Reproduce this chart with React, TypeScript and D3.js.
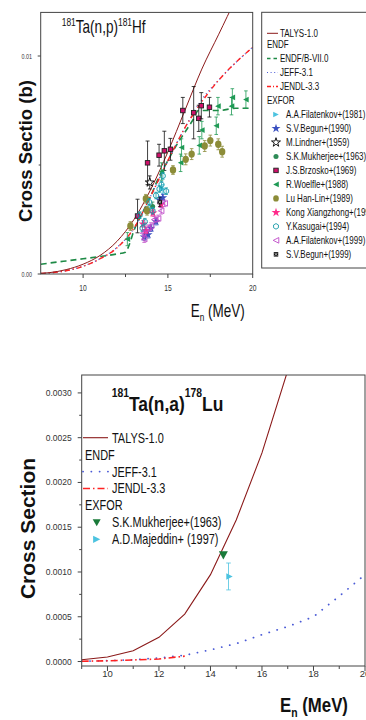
import React from 'react';
import * as d3 from 'd3';

// ---------- (n,p) chart data ----------
const npEnergy = [7.5, 8, 9, 10, 11, 12, 13, 14, 15, 16, 17, 18, 19, 20];
const npTalys = [0.00003, 0.00006, 0.0002, 0.00045, 0.00085, 0.0015, 0.0025, 0.0039, 0.0056, 0.0075, 0.0094, 0.011, 0.0126, 0.014];
const npJeff = [0.00002, 0.00005, 0.00015, 0.00036, 0.0007, 0.00122, 0.0021, 0.0036, 0.0052, 0.0067, 0.008, 0.0089, 0.0097, 0.0104];
const npJendl = [0.00002, 0.00005, 0.00015, 0.00035, 0.0007, 0.0012, 0.0021, 0.0036, 0.0052, 0.0067, 0.0079, 0.0089, 0.0097, 0.0104];
const npEndfEnergy = [7.5, 9, 10, 11, 12, 12.5, 12.7, 13, 13.5, 14, 14.5, 15, 15.5, 16, 16.5, 16.8, 17, 18, 19, 20];
const npEndf = [0.00045, 0.0006, 0.0007, 0.0008, 0.00092, 0.001, 0.0013, 0.002, 0.0028, 0.0036, 0.0045, 0.0052, 0.0059, 0.0065, 0.0071, 0.0075, 0.0075, 0.0075, 0.0076, 0.0076];

// EXFOR [E, sigma, err]
const npFilatenkov1981 = [[13.9, 0.003, 0.0002], [14.7, 0.0039, 0.0002]];
const npBegun1990 = [[13.6, 0.0017, 0.00015], [13.83, 0.0018, 0.00015], [14.0, 0.0021, 0.00015], [14.3, 0.0024, 0.00015], [14.52, 0.0034, 0.00015], [14.7, 0.0035, 0.00015]];
const npLindner = [[13.93, 0.0042, 0.0003]];
const npMukherjee = [[14.1, 0.0031, 0.0002]];
const npBrzosko = [[13.21, 0.00266, 0.00077], [13.8, 0.0051, 0.001], [14.48, 0.00545, 0.0005], [14.79, 0.00565, 0.0009], [15.15, 0.00572, 0.0005], [15.88, 0.0075, 0.0006], [16.52, 0.0074, 0.0012], [16.82, 0.00714, 0.0006], [16.97, 0.00772, 0.0006], [17.45, 0.00765, 0.00045]];
const npWoelfle = [[12.61, 0.0016, 0.0003], [14.62, 0.0047, 0.0004], [15.75, 0.0051, 0.0004], [15.8, 0.0058, 0.0004], [16.85, 0.0059, 0.0004], [17.0, 0.0066, 0.0004], [17.85, 0.0068, 0.0004], [17.95, 0.0077, 0.0004], [18.75, 0.0077, 0.0004], [18.8, 0.0081, 0.0004], [19.6, 0.008, 0.0004]];
const npLuHanLin = [[12.79, 0.0022, 0.0002], [13.7, 0.00345, 0.0002], [13.77, 0.0029, 0.0002], [15.3, 0.00477, 0.0002], [16.05, 0.00526, 0.00025], [16.4, 0.0055, 0.00025], [17.17, 0.00587, 0.00025], [17.5, 0.00612, 0.00025], [17.97, 0.00595, 0.00025], [18.2, 0.00561, 0.00025]];
const npKong = [[13.54, 0.0023, 0.00015], [13.7, 0.002, 0.00015], [14.12, 0.0028, 0.00015], [14.6, 0.0032, 0.00015]];
const npKasugai = [[13.34, 0.0027, 0.00015], [13.5, 0.0021, 0.00015], [13.64, 0.0024, 0.00015], [13.9, 0.0033, 0.00015], [14.1, 0.0029, 0.00015], [14.3, 0.0036, 0.00015], [14.5, 0.0039, 0.00015], [14.62, 0.0041, 0.00015], [14.7, 0.0045, 0.00015], [14.9, 0.0038, 0.00015]];
const npFilatenkov1999 = [[13.54, 0.00187, 0.00015], [13.6, 0.0016, 0.00015], [13.83, 0.0021, 0.00015], [14.0, 0.0022, 0.00015], [14.2, 0.0025, 0.00015], [14.42, 0.00255, 0.00015], [14.6, 0.0029, 0.00015], [14.81, 0.00324, 0.00015]];
const npBegun1999 = [[14.52, 0.0033, 0.0002]];

const npXTicks = [10, 15, 20];
const npXMinor = [12.5, 17.5];
const npYTicks = [0, 0.01];
const npYTickLabels = ['0.00', '0.01'];
const npYMinor = [0.005];

const npModelNames = ['TALYS-1.0', 'ENDF/B-VII.0', 'JEFF-3.1', 'JENDL-3.3'];
const npExpNames = ['A.A.Filatenkov+(1981)', 'S.V.Begun+(1990)', 'M.Lindner+(1959)', 'S.K.Mukherjee+(1963)', 'J.S.Brzosko+(1969)', 'R.Woelfle+(1988)', 'Lu Han-Lin+(1989)', 'Kong Xiangzhong+(1998)', 'Y.Kasugai+(1994)', 'A.A.Filatenkov+(1999)', 'S.V.Begun+(1999)'];

// ---------- (n,a) chart data ----------
const naEnergy = [9, 10, 11, 12, 13, 14, 15, 16, 17];
const naTalys = [0.00002, 0.00005, 0.00012, 0.00027, 0.00053, 0.00097, 0.00158, 0.00233, 0.00325];
const naJeffEnergy = [9, 10, 11, 12, 13, 14, 15, 16, 17, 18, 19, 20];
const naJeff = [0.000003, 0.00001, 0.00002, 0.00004, 0.00007, 0.00013, 0.0002, 0.0003, 0.00039, 0.0005, 0.00073, 0.00097];
const naJendlEnergy = [9, 10, 11, 12, 13];
const naJendl = [0.000003, 0.000008, 0.000018, 0.000028, 0.00006];
const naMukherjee = [[14.5, 0.00119]];
const naMajeddin = [[14.7, 0.00095, 0.00015]];

const naXTicks = [10, 12, 14, 16, 18, 20];
const naXMinor = [9, 11, 13, 15, 17, 19];
const naYTicks = [0, 0.0005, 0.001, 0.0015, 0.002, 0.0025, 0.003];
const naYMinor = [0.00025, 0.00075, 0.00125, 0.00175, 0.00225, 0.00275];
const naLegendNames = ['TALYS-1.0', 'ENDF', 'JEFF-3.1', 'JENDL-3.3', 'EXFOR', 'S.K.Mukherjee+(1963)', 'A.D.Majeddin+ (1997)'];

// ---------- styles ----------
const FONT = '"Liberation Sans", Arial, Helvetica, sans-serif';
const C_TALYS = '#8b1a1a';
const C_ENDF = '#1e8a46';
const C_JEFF = '#4a5ad6';
const C_JENDL = '#ff2222';
const C_AXIS = '#444';

type Kind = 'triRight' | 'star' | 'starOut' | 'circle' | 'square' | 'triLeft' | 'olive' | 'hexOut' | 'triLeftOut' | 'squareX' | 'triDown';

const expStyles: { kind: Kind; color: string; ebar: string }[] = [
  { kind: 'triRight', color: '#4cc3e0', ebar: '#4cc3e0' },
  { kind: 'star', color: '#3a50c0', ebar: '#3a50c0' },
  { kind: 'starOut', color: '#000', ebar: '#000' },
  { kind: 'circle', color: '#2e8b57', ebar: '#2e8b57' },
  { kind: 'square', color: '#d0106a', ebar: '#111' },
  { kind: 'triLeft', color: '#1f9a55', ebar: '#1f9a55' },
  { kind: 'olive', color: '#8c8c38', ebar: '#8c8c38' },
  { kind: 'star', color: '#ff2a8a', ebar: '#ff2a8a' },
  { kind: 'hexOut', color: '#169aa8', ebar: '#169aa8' },
  { kind: 'triLeftOut', color: '#c04ac8', ebar: '#c04ac8' },
  { kind: 'squareX', color: '#111', ebar: '#111' },
];
const npExpData = [npFilatenkov1981, npBegun1990, npLindner, npMukherjee, npBrzosko, npWoelfle, npLuHanLin, npKong, npKasugai, npFilatenkov1999, npBegun1999];

function Marker({ kind, x, y, color, s = 3 }: { kind: Kind; x: number; y: number; color: string; s?: number }) {
  const t = `translate(${x},${y})`;
  switch (kind) {
    case 'triRight':
      return <path transform={t} d={`M${s},0L${-s},${-s}L${-s},${s}Z`} fill={color} />;
    case 'triLeft':
      return <path transform={t} d={`M${-s},0L${s},${-s}L${s},${s}Z`} fill={color} />;
    case 'triLeftOut':
      return <path transform={t} d={`M${-s},0L${s},${-s}L${s},${s}Z`} fill="none" stroke={color} strokeWidth={0.9} />;
    case 'triDown':
      return <path transform={t} d={`M${-s},${-s * 0.8}L${s},${-s * 0.8}L0,${s}Z`} fill={color} />;
    case 'star':
      return <path transform={t} d={d3.symbol(d3.symbolStar, s * s * 3.2)() || ''} fill={color} />;
    case 'starOut':
      return <path transform={t} d={d3.symbol(d3.symbolStar, s * s * 3.2)() || ''} fill="#fff" stroke={color} strokeWidth={0.9} />;
    case 'circle':
      return <circle cx={x} cy={y} r={s * 0.9} fill={color} />;
    case 'olive':
      return <ellipse cx={x} cy={y} rx={s} ry={s * 1.15} fill={color} />;
    case 'square':
      return <rect x={x - s * 0.8} y={y - s * 0.8} width={s * 1.6} height={s * 1.6} fill={color} stroke="#222" strokeWidth={0.9} />;
    case 'squareX':
      return (
        <g transform={t}>
          <rect x={-s * 0.8} y={-s * 0.8} width={s * 1.6} height={s * 1.6} fill="#111" />
          <path d={`M${-s * 0.5},${-s * 0.5}L${s * 0.5},${s * 0.5}M${s * 0.5},${-s * 0.5}L${-s * 0.5},${s * 0.5}`} stroke="#fff" strokeWidth={0.6} />
        </g>
      );
    case 'hexOut': {
      const pts = d3.range(6).map((i) => {
        const a = (Math.PI / 3) * i + Math.PI / 6;
        return [Math.cos(a) * s, Math.sin(a) * s];
      });
      return <path transform={t} d={`M${pts.map((p) => p.join(',')).join('L')}Z`} fill="none" stroke={color} strokeWidth={0.9} />;
    }
  }
  return null;
}

function ErrBar({ x, y1, y2, color, cap = 2 }: { x: number; y1: number; y2: number; color: string; cap?: number }) {
  return (
    <path d={`M${x},${y1}V${y2}M${x - cap},${y1}H${x + cap}M${x - cap},${y2}H${x + cap}`} stroke={color} strokeWidth={0.8} fill="none" />
  );
}

function SText({ x, y, sx = 0.8, size, weight = 'normal', anchor = 'start', children, fill = '#111' }: any) {
  return (
    <text transform={`translate(${x},${y}) scale(${sx},1)`} fontSize={size} fontWeight={weight} textAnchor={anchor} fontFamily={FONT} fill={fill}>
      {children}
    </text>
  );
}

function TopChart() {
  const x = d3.scaleLinear().domain([7.5, 20]).range([40.7, 252.7]);
  const y = d3.scaleLinear().domain([0, 0.012]).range([274, 12.4]);
  const line = d3.line<number[]>().x((d) => x(d[0])).y((d) => y(d[1])).curve(d3.curveMonotoneX);
  const zip = (a: number[], b: number[]) => a.map((v, i) => [v, b[i]]);
  const [x0, x1] = x.range();
  const [yb, yt] = y.range();

  const rowY = (i: number) => (i === 0 ? 33.3 : 44.5 + (i - 1) * 13.99);
  const LX = 267;

  return (
    <g>
      <defs>
        <clipPath id="clipTop">
          <rect x={x0} y={yt} width={x1 - x0} height={yb - yt} />
        </clipPath>
      </defs>
      <g clipPath="url(#clipTop)">
        <path d={line(zip(npEndfEnergy, npEndf)) || ''} fill="none" stroke={C_ENDF} strokeWidth={1.6} strokeDasharray="6,4" />
        <path d={line(zip(npEnergy, npJeff)) || ''} fill="none" stroke={C_JEFF} strokeWidth={1.3} strokeDasharray="1,3" />
        <path d={line(zip(npEnergy, npJendl)) || ''} fill="none" stroke={C_JENDL} strokeWidth={1.4} strokeDasharray="5,3,1.2,3" />
        <path d={line(zip(npEnergy, npTalys)) || ''} fill="none" stroke={C_TALYS} strokeWidth={1} />
        {npExpData.map((ser, si) =>
          ser.map((p, i) => (
            <g key={`e${si}-${i}`}>
              <ErrBar x={x(p[0])} y1={y(p[1] - p[2])} y2={y(p[1] + p[2])} color={expStyles[si].ebar} cap={si === 4 ? 2 : 1.8} />
              <Marker kind={expStyles[si].kind} x={x(p[0])} y={y(p[1])} color={expStyles[si].color} s={si === 6 ? 3.2 : 2.8} />
            </g>
          ))
        )}
      </g>
      {/* frame */}
      <rect x={x0} y={yt} width={x1 - x0} height={yb - yt} fill="none" stroke={C_AXIS} strokeWidth={1} />
      {/* x ticks */}
      {npXTicks.map((t) => (
        <g key={`xt${t}`}>
          <line x1={x(t)} x2={x(t)} y1={yb} y2={yb + 4} stroke={C_AXIS} />
          <SText x={x(t)} y={290.7} size={9} sx={0.75} anchor="middle" fill="#333">{t}</SText>
        </g>
      ))}
      {npXMinor.map((t) => (
        <line key={`xm${t}`} x1={x(t)} x2={x(t)} y1={yb} y2={yb + 3} stroke={C_AXIS} />
      ))}
      {npYTicks.map((t, i) => (
        <g key={`yt${t}`}>
          <line x1={x0 - 3} x2={x0} y1={y(t)} y2={y(t)} stroke={C_AXIS} />
          <SText x={32} y={y(t) + 2.7} size={7.5} sx={0.72} anchor="end" fill="#333">{npYTickLabels[i]}</SText>
        </g>
      ))}
      {npYMinor.map((t) => (
        <line key={`ym${t}`} x1={x0 - 2} x2={x0} y1={y(t)} y2={y(t)} stroke={C_AXIS} />
      ))}
      {/* title */}
      <SText x={61.7} y={33.3} size={17.6} sx={0.77}>
        <tspan fontSize={11} dy={-7}>181</tspan>
        <tspan dy={7}>Ta(n,p)</tspan>
        <tspan fontSize={11} dy={-7}>181</tspan>
        <tspan dy={7}>Hf</tspan>
      </SText>
      {/* axis titles */}
      <text transform="translate(32,151) rotate(-90)" fontSize={18.5} fontWeight="bold" textAnchor="middle" fontFamily={FONT} fill="#111">
        Cross Sectio (b)
      </text>
      <SText x={190.7} y={316.7} size={18} sx={0.75}>
        E<tspan fontSize={11} dy={4}>n</tspan>
        <tspan dy={-4}> (MeV)</tspan>
      </SText>
      {/* legend */}
      <rect x={261.7} y={12.3} width={120} height={255.7} fill="#fff" stroke={C_AXIS} strokeWidth={1} />
      <line x1={LX} x2={LX + 11} y1={rowY(0)} y2={rowY(0)} stroke={C_TALYS} strokeWidth={1} />
      <SText x={LX + 13} y={rowY(0) + 3.6} size={10}>{npModelNames[0]}</SText>
      <SText x={LX} y={rowY(1) + 3.6} size={10}>ENDF</SText>
      <line x1={LX} x2={LX + 11} y1={rowY(2)} y2={rowY(2)} stroke={C_ENDF} strokeWidth={1.6} strokeDasharray="3.5,3" />
      <SText x={LX + 13} y={rowY(2) + 3.6} size={10}>{npModelNames[1]}</SText>
      <line x1={LX} x2={LX + 11} y1={rowY(3)} y2={rowY(3)} stroke={C_JEFF} strokeWidth={1.2} strokeDasharray="1,2.6" />
      <SText x={LX + 13} y={rowY(3) + 3.6} size={10}>{npModelNames[2]}</SText>
      <line x1={LX} x2={LX + 11} y1={rowY(4)} y2={rowY(4)} stroke={C_JENDL} strokeWidth={1.4} strokeDasharray="4,2,1,2" />
      <SText x={LX + 13} y={rowY(4) + 3.6} size={10}>{npModelNames[3]}</SText>
      <SText x={LX} y={rowY(5) + 3.6} size={10}>EXFOR</SText>
      {npExpNames.map((n, i) => (
        <g key={n}>
          <Marker kind={expStyles[i].kind} x={276} y={rowY(6 + i)} color={expStyles[i].color} s={2.8} />
          <SText x={286} y={rowY(6 + i) + 3.6} size={10}>{n}</SText>
        </g>
      ))}
    </g>
  );
}

function BottomChart() {
  const x = d3.scaleLinear().domain([9, 20]).range([81.7, 365]);
  const y = d3.scaleLinear().domain([-0.00005, 0.0032]).range([666, 375]);
  const line = d3.line<number[]>().x((d) => x(d[0])).y((d) => y(d[1]));
  const zip = (a: number[], b: number[]) => a.map((v, i) => [v, b[i]]);
  const [x0, x1] = x.range();
  const [yb, yt] = y.range();
  const rowY = (i: number) => 437.7 + i * 16.93;
  const LX0 = 83;
  const LX1 = 108;

  return (
    <g>
      <defs>
        <clipPath id="clipBot">
          <rect x={x0} y={yt} width={x1 - x0} height={yb - yt} />
        </clipPath>
      </defs>
      <g clipPath="url(#clipBot)">
        <path d={line(zip(naJeffEnergy, naJeff)) || ''} fill="none" stroke={C_JEFF} strokeWidth={1.8} strokeDasharray="0.1,8.2" strokeLinecap="round" />
        <path d={line(zip(naJendlEnergy, naJendl)) || ''} fill="none" stroke={C_JENDL} strokeWidth={1.6} strokeDasharray="7,3,1.5,3" />
        <path d={line(zip(naEnergy, naTalys)) || ''} fill="none" stroke={C_TALYS} strokeWidth={1.1} />
        {naMajeddin.map((p, i) => (
          <g key={`m${i}`}>
            <ErrBar x={x(p[0])} y1={y(p[1] - p[2])} y2={y(p[1] + p[2])} color="#4cc3e0" cap={2.3} />
            <Marker kind="triRight" x={x(p[0]) + 1} y={y(p[1])} color="#4cc3e0" s={3.2} />
          </g>
        ))}
        {naMukherjee.map((p, i) => (
          <Marker key={`k${i}`} kind="triDown" x={x(p[0])} y={y(p[1])} color="#1a7a3a" s={4.5} />
        ))}
      </g>
      <rect x={x0} y={yt} width={x1 - x0} height={yb - yt} fill="none" stroke={C_AXIS} strokeWidth={1} />
      {naXTicks.map((t) => (
        <g key={`bx${t}`}>
          <line x1={x(t)} x2={x(t)} y1={yb} y2={yb + 5} stroke={C_AXIS} />
          <text x={x(t)} y={677} fontSize={9.5} textAnchor="middle" fontFamily={FONT} fill="#333">{t}</text>
        </g>
      ))}
      {naXMinor.map((t) => (
        <line key={`bxm${t}`} x1={x(t)} x2={x(t)} y1={yb} y2={yb + 3} stroke={C_AXIS} />
      ))}
      {naYTicks.map((t) => (
        <g key={`by${t}`}>
          <line x1={x0 - 4} x2={x0} y1={y(t)} y2={y(t)} stroke={C_AXIS} />
          <text x={71.7} y={y(t) + 3} fontSize={8.5} textAnchor="end" fontFamily={FONT} fill="#333">{t.toFixed(4)}</text>
        </g>
      ))}
      {naYMinor.map((t) => (
        <line key={`bym${t}`} x1={x0 - 2.5} x2={x0} y1={y(t)} y2={y(t)} stroke={C_AXIS} />
      ))}
      {/* title */}
      <SText x={111.7} y={410.7} size={21} sx={0.83} weight="bold">
        <tspan fontSize={12.5} dy={-14}>181</tspan>
        <tspan dy={14}>Ta(n,a)</tspan>
        <tspan fontSize={12.5} dy={-14}>178</tspan>
        <tspan dy={14}>Lu</tspan>
      </SText>
      <text transform="translate(35,528.5) rotate(-90)" fontSize={21} fontWeight="bold" textAnchor="middle" fontFamily={FONT} fill="#111">
        Cross Section
      </text>
      <SText x={280} y={712} size={21} sx={0.8} weight="bold">
        E<tspan fontSize={13} dy={5}>n</tspan>
        <tspan dy={-5}> (MeV)</tspan>
      </SText>
      {/* legend */}
      <line x1={LX0} x2={LX1} y1={rowY(0)} y2={rowY(0)} stroke={C_TALYS} strokeWidth={1.1} />
      <SText x={112} y={rowY(0) + 5} size={14} sx={0.78}>{naLegendNames[0]}</SText>
      <SText x={85} y={rowY(1) + 5} size={14} sx={0.78}>{naLegendNames[1]}</SText>
      <line x1={LX0} x2={LX1} y1={rowY(2)} y2={rowY(2)} stroke={C_JEFF} strokeWidth={1.8} strokeDasharray="0.1,8.2" strokeLinecap="round" />
      <SText x={112} y={rowY(2) + 5} size={14} sx={0.78}>{naLegendNames[2]}</SText>
      <line x1={LX0} x2={LX1} y1={rowY(3)} y2={rowY(3)} stroke={C_JENDL} strokeWidth={1.6} strokeDasharray="7,3,1.5,3" />
      <SText x={112} y={rowY(3) + 5} size={14} sx={0.78}>{naLegendNames[3]}</SText>
      <SText x={85} y={rowY(4) + 5} size={14} sx={0.78}>{naLegendNames[4]}</SText>
      <Marker kind="triDown" x={96.7} y={rowY(5)} color="#1a7a3a" s={4} />
      <SText x={112} y={rowY(5) + 5} size={14} sx={0.78}>{naLegendNames[5]}</SText>
      <Marker kind="triRight" x={96.7} y={rowY(6)} color="#4cc3e0" s={3.6} />
      <SText x={112} y={rowY(6) + 5} size={14} sx={0.78}>{naLegendNames[6]}</SText>
    </g>
  );
}

export default function App() {
  return (
    <svg width={366} height={720} style={{ position: 'absolute', left: 0, top: 0, background: '#fff' }}>
      <rect width={366} height={720} fill="#fff" />
      <TopChart />
      <BottomChart />
    </svg>
  );
}
